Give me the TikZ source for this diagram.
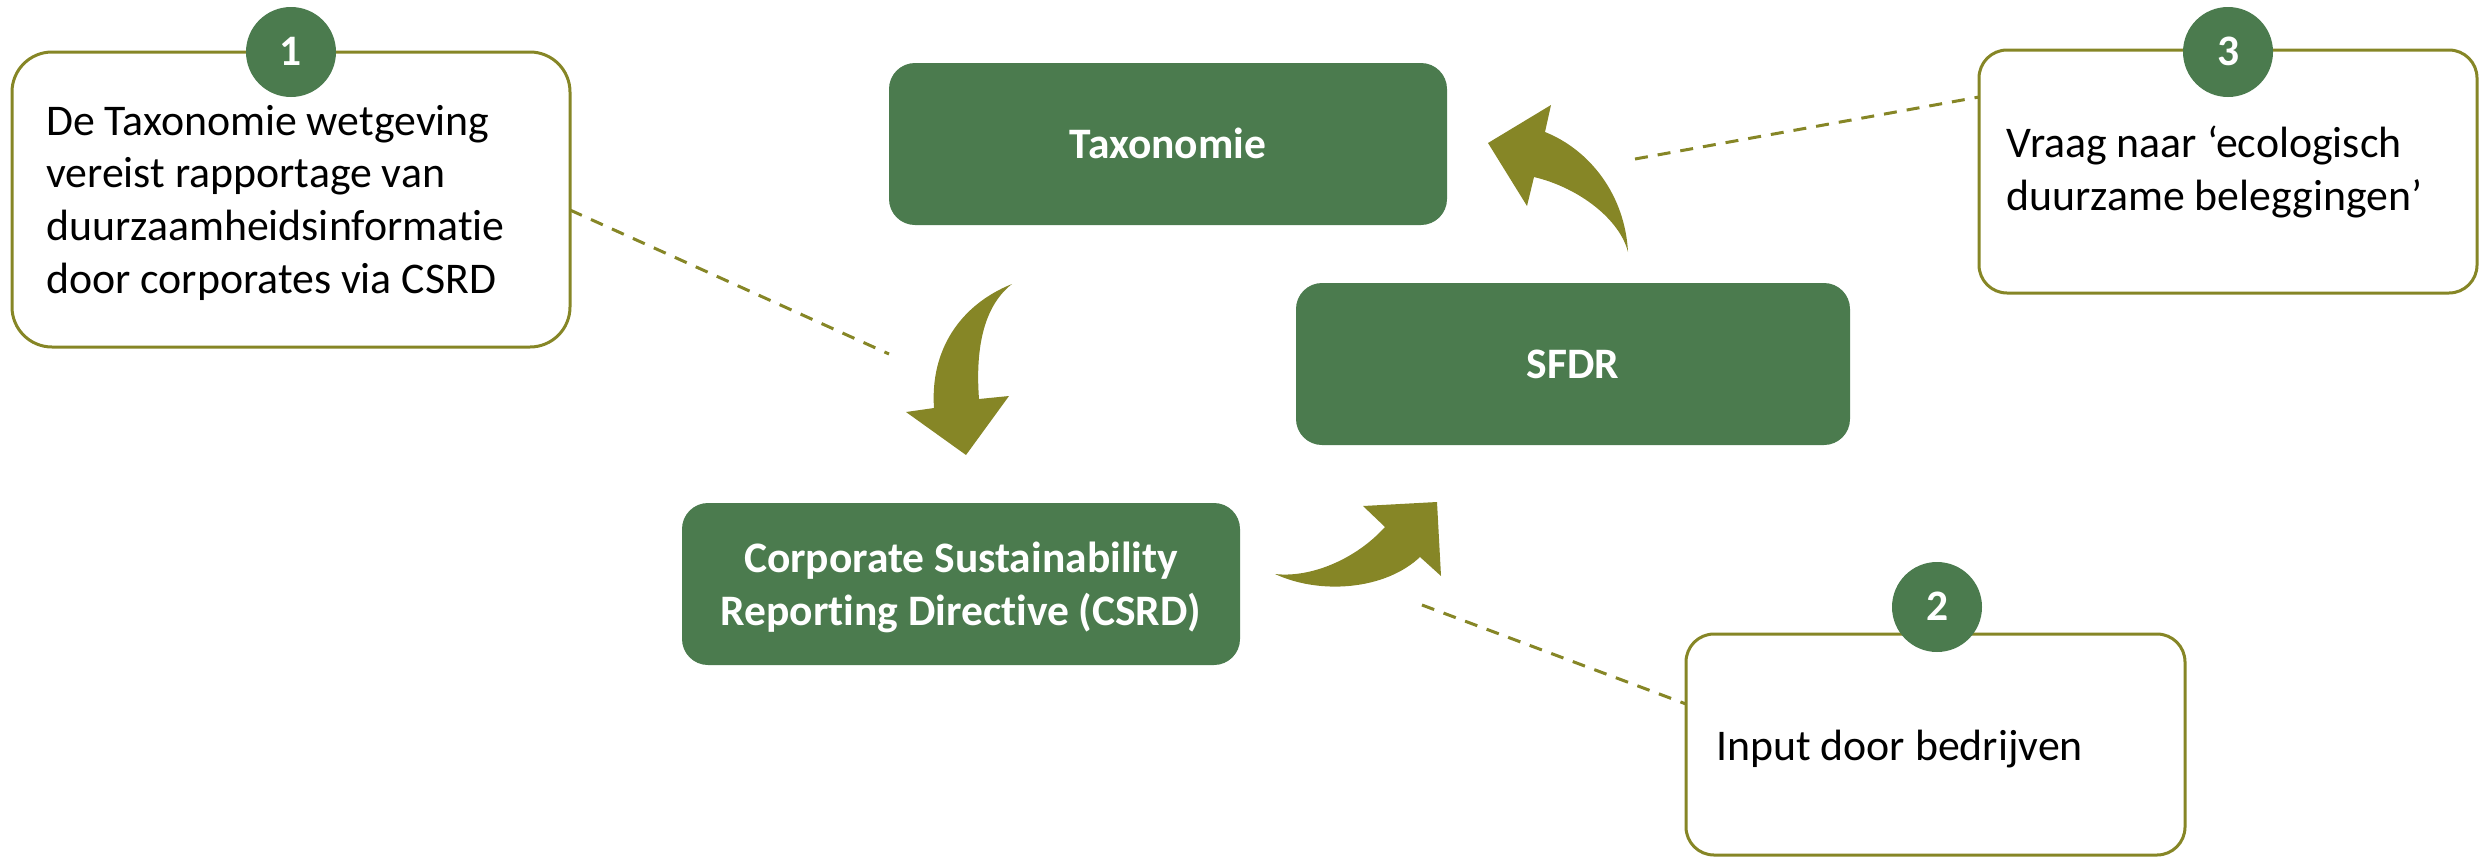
\documentclass[tikz,border=0pt]{standalone}
\usepackage{fontspec}
\setmainfont{Carlito}[Ligatures=NoCommon]
\definecolor{boxgreen}{RGB}{75,123,78}
\definecolor{oliveA}{RGB}{134,134,38}
\tikzset{
  greenbox/.style={draw=none, fill=boxgreen, rounded corners=26pt, inner sep=0pt},
  callout/.style={draw=oliveA, line width=3pt, fill=white, rounded corners=#1, inner sep=0pt},
  numdot/.style={circle, fill=boxgreen, minimum size=90pt, inner sep=0pt},
  bodytext/.style={font=\fontsize{43.8}{52.8}\selectfont, inner sep=0pt, text=black},
  headtext/.style={font=\fontsize{43.5}{53}\selectfont\bfseries, inner sep=0pt, text=white},
  linkline/.style={draw=oliveA, line width=3pt, dash pattern=on 13pt off 10pt},
  bigarrow/.style={fill=oliveA, draw=none},
}
\begin{document}
\begin{tikzpicture}[x=1pt,y=-1pt]
\useasboundingbox (0,0) rectangle (2479,857);
% dashed leader lines
\coordinate (d1a) at (570,210);
\coordinate (d1b) at (889,354);
\coordinate (d2a) at (1422,605);
\coordinate (d2b) at (1686,704);
\coordinate (d3a) at (1635,159);
\coordinate (d3b) at (1979,97);
\draw[linkline] (d1a) -- (d1b);
\draw[linkline] (d2a) -- (d2b);
\draw[linkline] (d3a) -- (d3b);
% callout boxes
\node[callout=40pt, minimum width=558pt, minimum height=295pt] (b1) at (291,199.5) {};
\node[callout=28pt, minimum width=498pt, minimum height=243pt] (b3) at (2228,171.5) {};
\node[callout=28pt, minimum width=499pt, minimum height=221pt] (b2) at (1935.5,744.5) {};
% number dots
\node[numdot] (n1) at (291,52) {};
\node[numdot] (n3) at (2228,52) {};
\node[numdot] (n2) at (1937,607) {};
\node[headtext, anchor=base] (n1t) at (291,65) {1};
\node[headtext, anchor=base] (n3t) at (2228,65) {3};
\node[headtext, anchor=base] (n2t) at (1937,620) {2};
% callout texts (base anchor = last line baseline)
\node[bodytext, anchor=base west, align=left] (t1) at (46,293.4)
  {De Taxonomie wetgeving\\vereist rapportage van\\duurzaamheidsinformatie\\door corporates via CSRD};
\node[bodytext, anchor=base west, align=left] (t3) at (2006,210.5)
  {Vraag naar ‘ecologisch\\duurzame beleggingen’};
\node[bodytext, anchor=base west] (t2) at (1716,760) {Input door bedrijven};
% green boxes
\node[greenbox, minimum width=558pt, minimum height=162pt] (tax) at (1168,144) {};
\node[greenbox, minimum width=554pt, minimum height=162pt] (sfdr) at (1573,364) {};
\node[greenbox, minimum width=558pt, minimum height=162pt] (csrd) at (961,584) {};
\node[headtext, anchor=base] (taxt) at (1168,158) {Taxonomie};
\node[headtext, anchor=base] (sfdrt) at (1573,378) {SFDR};
\node[headtext, anchor=base, align=center] (csrdt) at (961,625)
  {Corporate Sustainability\\Reporting Directive (CSRD)};
% curved block arrows
\fill[bigarrow] (1012,284) .. controls (960,305) and (930,350) .. (934,408)
  -- (906,412) -- (966,455) -- (1009,396) -- (979,399)
  .. controls (975,345) and (985,305) .. (1012,284) -- cycle;
\fill[bigarrow] (1275,574) .. controls (1320,595) and (1385,590) .. (1420,557)
  -- (1441,576) -- (1437,502) -- (1363,506) -- (1385,527)
  .. controls (1355,560) and (1310,578) .. (1275,574) -- cycle;
\fill[bigarrow] (1628,252) .. controls (1625,195) and (1590,150) .. (1545,132)
  -- (1551,105) -- (1488,143) -- (1527,206) -- (1534,177)
  .. controls (1580,188) and (1620,220) .. (1628,252) -- cycle;
\end{tikzpicture}
\end{document}
